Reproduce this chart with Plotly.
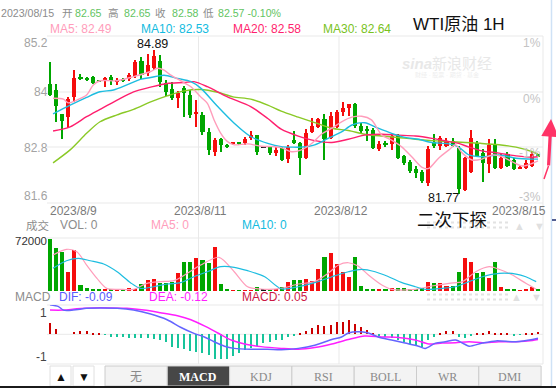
import plotly.graph_objects as go

W, H = 556, 388

# ---------------- data ----------------
opens = [84.16, 84.03, 83.51, 83.44, 83.88, 84.31, 84.29, 84.31, 84.23, 84.22,
         84.31, 84.20, 84.27, 84.27, 84.33, 84.66, 84.40, 84.51, 84.66, 84.18,
         84.05, 83.86, 84.07, 83.92, 83.51, 83.49, 83.12, 82.68, 82.96, 82.84,
         82.86, 82.88, 82.88, 82.99, 83.05, 82.78, 82.79, 82.66, 82.77, 82.53,
         82.94, 82.88, 82.55, 83.12, 83.23, 83.40, 82.99, 83.23, 83.55, 83.64,
         83.72, 83.25, 83.18, 83.16, 82.75, 82.88, 82.86, 83.05, 82.60, 82.47,
         82.31, 82.25, 82.01, 82.90, 82.81, 82.81, 82.92, 82.77, 81.86, 82.25,
         82.88, 82.66, 82.42, 82.86, 82.34, 82.64, 82.51, 82.31, 82.34, 82.38,
         82.65]
highs = [84.64, 84.16, 83.51, 83.87, 84.46, 84.38, 84.32, 84.33, 84.25, 84.31,
         84.35, 84.30, 84.28, 84.39, 84.68, 84.75, 84.82, 84.89, 84.79, 84.25,
         84.20, 84.00, 84.12, 84.03, 83.81, 83.55, 83.20, 82.99, 82.99, 82.86,
         82.90, 82.90, 83.01, 83.14, 83.05, 82.79, 82.81, 82.79, 82.79, 82.84,
         83.14, 82.90, 83.18, 83.43, 83.43, 83.51, 83.55, 83.59, 83.77, 83.72,
         83.74, 83.31, 83.25, 83.20, 82.92, 82.92, 83.07, 83.07, 82.62, 82.51,
         82.38, 82.29, 82.81, 83.07, 83.03, 82.99, 82.99, 82.81, 82.58, 83.16,
         82.92, 82.75, 82.97, 82.97, 82.64, 82.68, 82.55, 82.38, 82.51, 82.68,
         82.65]
lows = [83.90, 83.34, 82.96, 83.20, 83.77, 84.24, 84.23, 84.16, 84.20, 84.10,
        84.14, 84.14, 84.20, 84.23, 84.30, 84.27, 84.33, 84.46, 84.09, 83.90,
        83.81, 83.64, 83.45, 83.42, 83.23, 83.05, 82.62, 82.60, 82.68, 82.77,
        82.84, 82.84, 82.84, 82.94, 82.62, 82.78, 82.62, 82.60, 82.49, 82.44,
        82.86, 82.18, 82.53, 83.10, 83.20, 82.51, 82.97, 83.20, 83.46, 83.46,
        83.20, 83.07, 82.92, 82.75, 82.71, 82.79, 82.73, 82.53, 82.40, 82.23,
        82.12, 82.01, 81.95, 82.77, 82.73, 82.79, 82.79, 81.77, 81.84, 82.23,
        82.58, 82.03, 82.23, 82.31, 82.31, 82.36, 82.29, 82.31, 82.31, 82.36,
        82.57]
closes = [83.93, 83.68, 83.36, 83.83, 84.29, 84.27, 84.25, 84.18, 84.22, 84.29,
          84.22, 84.25, 84.22, 84.36, 84.64, 84.36, 84.57, 84.77, 84.20, 83.99,
          83.86, 83.96, 83.96, 83.49, 83.55, 83.12, 82.73, 82.94, 82.84, 82.81,
          82.88, 82.86, 82.97, 83.05, 82.68, 82.78, 82.66, 82.73, 82.51, 82.79,
          82.88, 82.55, 83.10, 83.25, 83.40, 82.97, 83.46, 83.55, 83.64, 83.72,
          83.25, 83.14, 83.14, 82.77, 82.86, 82.84, 83.03, 82.55, 82.45, 82.27,
          82.23, 82.05, 82.75, 82.81, 82.99, 82.90, 82.81, 81.88, 82.55, 82.99,
          82.60, 82.45, 82.84, 82.34, 82.55, 82.38, 82.31, 82.36, 82.44, 82.64,
          82.58]
volumes = [71000, 58800, 53000, 25800, 55700, 7700, 4500, 1400, 1400, 2300,
           1400, 2000, 2000, 4000, 3100, 9500, 15000, 16300, 11300, 10400,
           12700, 24900, 39800, 38900, 44400, 42100, 38500, 60200, 9500, 2300,
           1000, 1000, 1000, 1000, 5000, 2000, 1000, 2500, 5800, 12700,
           15000, 15000, 15900, 14000, 29500, 45800, 51200, 36700, 26200, 19400,
           46600, 6800, 2500, 2500, 1500, 1500, 3600, 3600, 3600, 2500,
           2500, 3600, 12700, 11300, 10400, 6800, 6800, 26200, 44400, 39800,
           24000, 26200, 17200, 39800, 5800, 2500, 1500, 1000, 1500, 5000,
           1500]
macd_hist = [0.25, 0.12, 0.0, 0.0, 0.06, 0.08, 0.08, 0.04, 0.01, -0.01,
             -0.05, -0.05, -0.07, -0.08, -0.08, -0.09, -0.09, -0.11, -0.13, -0.17,
             -0.28, -0.30, -0.34, -0.38, -0.41, -0.43, -0.47, -0.55, -0.57, -0.55,
             -0.49, -0.42, -0.36, -0.30, -0.27, -0.20, -0.17, -0.13, -0.13, -0.07,
             -0.03, 0.02, 0.08, 0.14, 0.21, 0.19, 0.21, 0.27, 0.29, 0.33,
             0.23, 0.16, 0.10, 0.02, -0.05, -0.07, -0.09, -0.13, -0.17, -0.22,
             -0.24, -0.28, -0.13, -0.05, 0.04, 0.08, 0.08, -0.07, -0.09, -0.03,
             0.03, 0.04, 0.08, 0.03, 0.04, 0.01, -0.02, -0.01, 0.02, 0.04,
             0.05]

ma5_x = [0.5, 2.2, 3, 4.4, 6, 7.1, 8.2, 11, 13.7, 16.5, 17.6, 18.7, 19.8, 21.4, 23.1,
         24.7, 25.8, 26.9, 28, 29.1, 30.2, 32.4, 34.6, 36.8, 37.9, 39.6, 41.2, 42.9,
         44.5, 46.2, 47.8, 49.5, 51.1, 52.7, 54.4, 56, 57.7, 59.3, 61, 62.1, 63.7,
         65.4, 66.5, 67.6, 69.2, 70.8, 72.5, 74.2, 75.8, 77.5, 79.1, 80]
ma5_y = [83.85, 83.83, 83.75, 83.81, 83.92, 84.14, 84.23, 84.23, 84.32, 84.43, 84.50,
         84.46, 84.35, 84.23, 84.10, 83.88, 83.74, 83.38, 83.09, 82.91, 82.84, 82.86,
         82.81, 82.80, 82.78, 82.69, 82.73, 82.87, 83.07, 83.20, 83.34, 83.44, 83.46,
         83.38, 83.05, 82.94, 82.79, 82.58, 82.35, 82.33, 82.55, 82.73, 82.84, 82.66,
         82.51, 82.53, 82.62, 82.58, 82.47, 82.38, 82.44, 82.49]
ma10_x = [0.5, 3.3, 6, 8.2, 10.4, 12.6, 14.8, 16.5, 18.7, 20.9, 23.1, 24.7, 27.5, 30.2,
          32.9, 35.7, 37.9, 39.6, 41.2, 43.4, 45.6, 47.8, 49.5, 51.6, 53.8, 56, 58.2,
          60.4, 62.6, 65.4, 67, 68.7, 70.8, 73.6, 76.4, 79.1, 80]
ma10_y = [83.51, 83.70, 83.87, 83.99, 84.03, 84.14, 84.26, 84.30, 84.35, 84.28, 84.21,
          84.07, 83.67, 83.31, 83.02, 82.87, 82.80, 82.79, 82.79, 82.84, 82.98, 83.12,
          83.27, 83.32, 83.20, 83.09, 83.00, 82.96, 82.89, 82.86, 82.79, 82.62, 82.58,
          82.62, 82.55, 82.53, 82.53]
ma20_x = [0.5, 3.3, 6, 8.2, 11, 13.7, 16.5, 19.2, 22, 23.6, 25.8, 29.1, 32.9, 35.7, 37.9,
          40.7, 43.4, 46.2, 48.9, 51.6, 54.4, 57.1, 59.9, 62.6, 65.4, 67, 68.7, 70.8,
          73.6, 76.4, 79.1, 80]
ma20_y = [83.14, 83.23, 83.45, 83.61, 83.81, 83.99, 84.09, 84.17, 84.19, 84.21, 84.10,
          83.88, 83.67, 83.41, 83.18, 83.03, 82.93, 82.89, 82.96, 83.05, 83.07, 83.05,
          83.03, 82.98, 82.91, 82.87, 82.79, 82.71, 82.66, 82.60, 82.57, 82.58]
ma30_x = [0.5, 3.3, 6, 8.2, 11, 13.7, 16.5, 19.2, 22, 24.7, 27.5, 30, 32.9, 35.7, 37.9,
          40.7, 43.4, 46.2, 48.9, 51.6, 54.4, 57.1, 59.9, 62.6, 65.4, 68.1, 70.8, 73.6,
          76.4, 79.1, 80]
ma30_y = [82.45, 82.73, 83.09, 83.34, 83.49, 83.61, 83.77, 83.90, 84.01, 84.04, 83.98,
          83.88, 83.83, 83.70, 83.57, 83.44, 83.32, 83.20, 83.15, 83.07, 83.03, 83.00,
          82.96, 82.93, 82.91, 82.89, 82.87, 82.84, 82.79, 82.69, 82.64]

vma5_x = [0.5, 2.7, 4.4, 6, 7.7, 9.3, 11.5, 13.7, 15.9, 18.1, 20.3, 22.5, 24.7, 27.7,
          30.2, 32.4, 35.2, 37.9, 40.7, 43.4, 45.6, 47.3, 48.9, 50.5, 52.2, 54.4, 56,
          59.9, 62.6, 65.4, 67.6, 69.8, 72, 73.6, 75.8, 78, 79.7]
vma5_y = [48900, 56600, 53400, 35300, 17200, 3600, 2300, 2300, 10400, 12700, 14000,
          24000, 35300, 45800, 26200, 5800, 2300, 3500, 9500, 12700, 24000, 35300,
          38400, 34000, 21700, 8100, 2300, 2300, 6800, 10400, 12700, 26200, 33000,
          29500, 21700, 10400, 2300]
vma10_x = [0.5, 2.7, 4.7, 6.6, 8.8, 11, 13.2, 14.8, 17, 19.2, 21.4, 23.6, 25.8, 28,
           30.2, 32.4, 35.2, 37.9, 40.7, 43.4, 46.2, 48.9, 51.1, 53.3, 55.5, 57.7,
           59.9, 61.5, 64.3, 66.5, 68.7, 70.9, 73.6, 76.4, 78, 79.7]
vma10_y = [30800, 41100, 44400, 41100, 36700, 26200, 11300, 3600, 5800, 9500, 11300,
           19400, 26200, 33000, 32200, 27600, 19400, 3000, 5800, 11300, 19400, 26200,
           29500, 26200, 19400, 11300, 5800, 2300, 3600, 5800, 12700, 19400, 24000,
           23000, 19400, 12700]

dif_x = [0, 1.4, 2.2, 3.8, 6, 8.2, 11, 13.7, 16.5, 19.2, 21.4, 23.6, 25.3, 26.9, 28.6,
         30.2, 32.9, 35.7, 37.9, 40.7, 43.4, 46.2, 47.8, 48.9, 50.5, 52.2, 53.8, 56,
         58.2, 60.4, 61.5, 63.2, 64.8, 66.5, 67.9, 68.7, 70.9, 73.1, 76.4, 79.1, 80]
dif_y = [0.67, 0.63, 0.55, 0.55, 0.59, 0.60, 0.59, 0.55, 0.46, 0.33, 0.16, 0.02, -0.06,
         -0.17, -0.27, -0.32, -0.34, -0.34, -0.35, -0.32, -0.25, -0.12, -0.06, 0.03,
         0.06, 0.03, -0.06, -0.13, -0.20, -0.27, -0.32, -0.20, -0.17, -0.13, -0.22,
         -0.27, -0.20, -0.15, -0.17, -0.12, -0.09]
dea_x = [0, 2.2, 4.4, 7.1, 9.9, 12.6, 15.4, 18.1, 20.9, 23.1, 25.3, 27.5, 29.7, 31.9,
         34.6, 37.9, 40.7, 43.4, 46.2, 48.9, 51.6, 54.4, 57.1, 59.9, 62.1, 64.3, 66.5,
         68.7, 70.9, 73.6, 76.4, 79.1, 80]
dea_y = [0.55, 0.55, 0.58, 0.60, 0.60, 0.59, 0.55, 0.49, 0.42, 0.33, 0.19, 0.03, -0.13,
         -0.22, -0.28, -0.32, -0.34, -0.30, -0.22, -0.12, -0.04, -0.06, -0.07, -0.13,
         -0.22, -0.20, -0.19, -0.17, -0.19, -0.17, -0.17, -0.14, -0.12]

price_ticks = ["85.2", "84", "82.8", "81.6"]
pct_ticks = ["1%", "0%", "-1%", "-3%"]
date_labels = ["2023/8/9", "2023/8/11", "2023/8/12", "2023/8/15"]
tabs = ["无", "MACD", "KDJ", "RSI", "BOLL", "WR", "DMI"]

# ---------------- styling ----------------
RED, GREEN, BLACK = "#f50d0d", "#00a600", "#111111"
C_MA5, C_MA10, C_MA20, C_MA30 = "#ff9dbb", "#1dbde0", "#ff1f6e", "#8ac926"
C_DIF, C_DEA = "#6464ff", "#ff1eff"
SANS = "Liberation Sans, Arial, Noto Sans CJK SC, sans-serif"
SERIF = "Liberation Serif, DejaVu Serif, Noto Sans CJK SC, serif"


def px(x):
    return x / W


def py(y):
    return 1 - y / H


n = len(opens)
idx = list(range(n))


def ccolor(o, c):
    if c > o:
        return RED
    if c < o:
        return GREEN
    return BLACK


cols = [ccolor(o, c) for o, c in zip(opens, closes)]
body_base = [min(o, c) for o, c in zip(opens, closes)]
body_h = [max(abs(c - o), 0.022) for o, c in zip(opens, closes)]
wick_h = [h - l for h, l in zip(highs, lows)]

fig = go.Figure()

# candles: wick + body
fig.add_trace(go.Bar(x=idx, y=wick_h, base=lows, width=0.17, marker=dict(color=cols, line=dict(width=0)),
                     xaxis="x", yaxis="y"))
fig.add_trace(go.Bar(x=idx, y=body_h, base=body_base, width=0.66, marker=dict(color=cols, line=dict(width=0)),
                     xaxis="x", yaxis="y"))
for xs, ys, c in [(ma30_x, ma30_y, C_MA30), (ma20_x, ma20_y, C_MA20),
                  (ma10_x, ma10_y, C_MA10), (ma5_x, ma5_y, C_MA5)]:
    fig.add_trace(go.Scatter(x=xs, y=ys, mode="lines", line=dict(color=c, width=1.4, shape="spline", smoothing=0.8),
                             xaxis="x", yaxis="y"))

# volume
fig.add_trace(go.Bar(x=idx, y=volumes, width=0.66, marker=dict(color=cols, line=dict(width=0)),
                     xaxis="x2", yaxis="y2"))
fig.add_trace(go.Scatter(x=vma5_x, y=vma5_y, mode="lines", line=dict(color=C_MA5, width=1.2, shape="spline", smoothing=0.8),
                         xaxis="x2", yaxis="y2"))
fig.add_trace(go.Scatter(x=vma10_x, y=vma10_y, mode="lines", line=dict(color=C_MA10, width=1.2, shape="spline", smoothing=0.8),
                         xaxis="x2", yaxis="y2"))

# MACD
hcols = ["#cc0000" if v >= 0 else "#17c49b" for v in macd_hist]
fig.add_trace(go.Bar(x=idx, y=macd_hist, width=0.17, marker=dict(color=hcols, line=dict(width=0)),
                     xaxis="x3", yaxis="y3"))
fig.add_trace(go.Scatter(x=dea_x, y=dea_y, mode="lines", line=dict(color=C_DEA, width=1.5, shape="spline", smoothing=0.8),
                         xaxis="x3", yaxis="y3"))
fig.add_trace(go.Scatter(x=dif_x, y=dif_y, mode="lines", line=dict(color=C_DIF, width=1.5, shape="spline", smoothing=0.8),
                         xaxis="x3", yaxis="y3"))

XL, XR = 47, 543
step = 6.1
xmin = -(50 - XL) / step
xmax = xmin + (XR - XL) / step
dom = [px(XL), px(XR)]
hid = dict(visible=False, showgrid=False, zeroline=False, fixedrange=True)

fig.update_layout(
    width=W, height=H, margin=dict(l=0, r=0, t=0, b=0),
    paper_bgcolor="white", plot_bgcolor="rgba(0,0,0,0)",
    showlegend=False, barmode="overlay", bargap=0,
    xaxis=dict(domain=dom, range=[xmin, xmax], anchor="y", **hid),
    xaxis2=dict(domain=dom, range=[xmin, xmax], anchor="y2", **hid),
    xaxis3=dict(domain=dom, range=[xmin, xmax], anchor="y3", **hid),
    yaxis=dict(domain=[py(202), py(36)], range=[81.6, 85.2], anchor="x", **hid),
    yaxis2=dict(domain=[py(291), py(238)], range=[0, 72000], anchor="x2", **hid),
    yaxis3=dict(domain=[py(364), py(305)], range=[-0.675, 0.666], anchor="x3", **hid),
)

shapes = []


def hline(y, x0=XL, x1=XR, color="#e9e9e9", width=1, dash="solid", layer="below"):
    shapes.append(dict(type="line", xref="paper", yref="paper", x0=px(x0), x1=px(x1), y0=py(y), y1=py(y),
                       line=dict(color=color, width=width, dash=dash), layer=layer))


def vline(x, y0, y1, color="#e9e9e9", width=1, layer="below"):
    shapes.append(dict(type="line", xref="paper", yref="paper", x0=px(x), x1=px(x), y0=py(y0), y1=py(y1),
                       line=dict(color=color, width=width), layer=layer))


def rect(x0, y0, x1, y1, fill, line="#d0d0d0", layer="below"):
    shapes.append(dict(type="rect", xref="paper", yref="paper", x0=px(x0), x1=px(x1), y0=py(y1), y1=py(y0),
                       fillcolor=fill, line=dict(color=line, width=1), layer=layer))


for y in [36, 92, 147, 203, 238, 305, 334.3, 364]:
    hline(y)
for x in [198.5, 339]:
    vline(x, 36, 364)
vline(543, 36, 364)
vline(551.5, 0, 388, color="#cfe2f6", width=1.5)
hline(220, 552, 556, color="#1a2a6c", width=1.5, layer="above")

# dotted placeholders on the right of the label rows
for yy in [222.5, 227.5, 294.5, 299.5]:
    hline(yy, 427, 510, color="#e2e2e2", width=2, dash="dot")

# bottom tool bar
rect(50, 366, 71, 386, "white", "#e0e0e0")
rect(73, 366, 94, 386, "white", "#e0e0e0")
tab_l, tab_w = 105, 62.3
for k, t in enumerate(tabs):
    rect(tab_l + k * tab_w, 366, tab_l + (k + 1) * tab_w, 386, "#474747" if t == "MACD" else "#f3f3f3", "#cccccc")
shapes.append(dict(type="rect", xref="paper", yref="paper", x0=0, x1=1, y0=py(388), y1=py(386),
                   fillcolor="#1b1b1b", line=dict(width=0)))

# red hand-drawn tail
shapes.append(dict(type="line", xref="paper", yref="paper", x0=px(548.5), y0=py(166), x1=px(544), y1=py(179),
                   line=dict(color="#ff3366", width=1.5), layer="above"))

fig.update_layout(shapes=shapes)

ann = []


def txt(s, x, y, color, size=12, anchor="left", family=SANS):
    ann.append(dict(text=s, x=px(x), y=py(y), xref="paper", yref="paper", xanchor=anchor, yanchor="middle",
                    showarrow=False, borderpad=0, font=dict(color=color, size=size, family=family)))


GRN_T, GRY_T = "#62c462", "#8c8c8c"
# header row 1
txt("2023/08/15", 0, 13, GRY_T, 10.6)
for s, x, c in [("开", 60.5, GRY_T), ("82.65", 73.5, GRN_T), ("高", 106.5, GRY_T), ("82.65", 122.5, GRN_T),
                ("收", 153.5, GRY_T), ("82.58", 170.5, GRN_T), ("低", 201.5, GRY_T), ("82.57 -0.10%", 216.5, GRN_T)]:
    txt(s, x, 13, c, 10.6)
# header row 2
txt("MA5: %.2f" % ma5_y[-1], 48.5, 29, C_MA5, 12)
txt("MA10: %.2f" % ma10_y[-1], 139.5, 29, "#12bbe0", 12)
txt("MA20: %.2f" % ma20_y[-1], 231.5, 29, C_MA20, 12)
txt("MA30: %.2f" % ma30_y[-1], 322.5, 29, "#79c21e", 12)
txt("WTI原油 1H", 412, 25, "#111111", 17)

# price axis labels
for s, y in zip(price_ticks, [43, 92, 147.5, 196]):
    txt(s, 48.5, y, "#a3a3a3", 12, "right")
for s, y in zip(pct_ticks, [43, 99, 153, 197]):
    txt(s, 541.5, y, "#c4c4c4", 12, "right")

# watermark
txt("<b><i>sina</i></b>新浪财经", 447, 64, "#e8e8e8", 15, "center")
txt("财经 · 股票 · 期货 · 基金", 447, 75, "#eeeeee", 6, "center")

# extremes
txt("84.89", 152, 44, "#111111", 12.5, "center")
txt("81.77", 443, 198, "#111111", 12.5, "center")

# dates
for s, x in zip(date_labels, [73, 200, 341, 519]):
    txt(s, x, 211.5, "#7a7a7a", 12, "center")

txt("二次下探", 452, 219.5, "#111111", 17.5, "center")

# volume label row
txt("成交", 24.5, 225, GRY_T, 11.5)
txt("VOL: 0", 59, 225, GRY_T, 12)
txt("MA5: 0", 150, 225, C_MA5, 12)
txt("MA10: 0", 241, 225, "#12bbe0", 12)
txt("▲", 519, 225.5, "#e0e0e0", 11, "center")
txt("▼", 539, 225.5, "#e0e0e0", 11, "center")
txt("72000", 48, 241, "#333333", 11.5, "right")

# MACD label row
txt("MACD", 13.5, 296.5, GRY_T, 12)
txt("DIF: %.2f" % dif_y[-1], 58, 296.5, "#5a5aff", 12)
txt("DEA: %.2f" % dea_y[-1], 148, 296.5, C_DEA, 12)
txt("MACD: %.2f" % macd_hist[-1], 241, 296.5, "#cc1844", 12)
txt("▲", 516, 297, "#e0e0e0", 11, "center")
txt("▼", 536, 297, "#e0e0e0", 11, "center")
txt("1", 48, 313, "#444444", 12, "right")
txt("-1", 48, 356.5, "#444444", 12, "right")

# tool bar text
txt("▲", 60.5, 376.5, "#111111", 12, "center")
txt("▼", 83.5, 376.5, "#111111", 12, "center")
for k, t in enumerate(tabs):
    cx = tab_l + (k + 0.5) * tab_w
    if t == "MACD":
        txt("<b>MACD</b>", cx, 376.5, "white", 12, "center", SERIF)
    else:
        txt(t, cx, 376.5, "#8a8a8a", 12, "center", SERIF)

# red arrow
ann.append(dict(x=px(551), y=py(119), xref="paper", yref="paper", ax=-2.5, ay=48, axref="pixel", ayref="pixel",
                text="", showarrow=True, arrowhead=2, arrowsize=1.1, arrowwidth=3.2, arrowcolor="#ff3366"))

fig.update_layout(annotations=ann)

fig.write_html("out.html", config={"displayModeBar": False})
